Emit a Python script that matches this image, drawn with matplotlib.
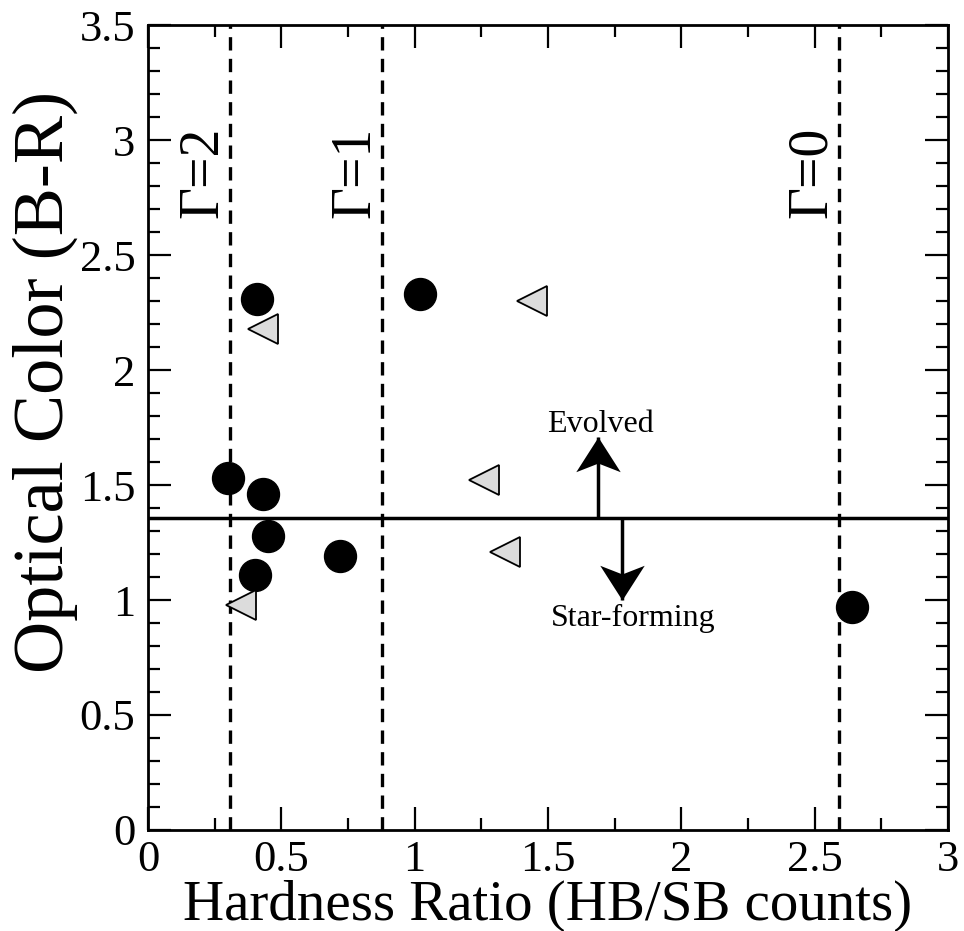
import numpy as np
import matplotlib
matplotlib.use("Agg")
import matplotlib.pyplot as plt
from matplotlib.ticker import MultipleLocator
from matplotlib.path import Path

plt.rcParams['font.family'] = ['Liberation Serif', 'DejaVu Serif']

# Detected sources (filled circles)
det_hr = [0.41, 1.02, 0.30, 0.43, 0.45, 0.40, 0.72, 2.64]
det_col = [2.31, 2.33, 1.53, 1.46, 1.28, 1.11, 1.19, 0.97]

# Upper limits (left-pointing triangles)
lim_hr = [0.43, 1.44, 1.26, 1.34, 0.35]
lim_col = [2.18, 2.30, 1.52, 1.21, 0.98]

# Photon-index reference lines
gamma_hr = [0.308, 0.876, 2.59]
gamma_lab = ['\u0393=2', '\u0393=1', '\u0393=0']
color_cut = 1.355

# arrows: (x, tip y)
arrow_x = [1.687, 1.777]
arrow_tip = [1.71, 1.0]

fig = plt.figure(figsize=(9.64, 9.31), dpi=100)
ax = fig.add_axes([0.1535, 0.1085, 0.83, 0.8646])

for g, lab in zip(gamma_hr, gamma_lab):
    ax.axvline(g, color='black', ls=(0, (4, 2.5)), lw=2.4, zorder=1)
    ax.text(g - 0.099, 2.86, lab, rotation=90, ha='center', va='center', fontsize=40)

ax.axhline(color_cut, color='black', lw=2.5, zorder=1)

ax.plot(det_hr, det_col, 'o', color='black', markersize=23, zorder=3)
ax.plot(lim_hr, lim_col, '<', markerfacecolor='#dcdcdc', markeredgecolor='black',
        markeredgewidth=1.3, markersize=21, zorder=3)

# barbed arrow heads as custom markers with the tip at the origin
head_up = Path([(0, 0), (-0.64, -1), (0, -0.75), (0.64, -1), (0, 0)],
               [Path.MOVETO, Path.LINETO, Path.LINETO, Path.LINETO, Path.CLOSEPOLY])
head_dn = Path([(0, 0), (-0.64, 1), (0, 0.75), (0.64, 1), (0, 0)],
               [Path.MOVETO, Path.LINETO, Path.LINETO, Path.LINETO, Path.CLOSEPOLY])
for x, tip, head in zip(arrow_x, arrow_tip, [head_up, head_dn]):
    ax.plot([x, x], [color_cut, tip], color='black', lw=2.5, zorder=2,
            solid_capstyle='butt')
    ax.plot([x], [tip], marker=head, markersize=50, color='black',
            markeredgewidth=0, zorder=2)

ax.text(1.697, 1.765, 'Evolved', ha='center', va='center', fontsize=23)
ax.text(1.82, 0.92, 'Star-forming', ha='center', va='center', fontsize=23)

ax.set_xlim(0, 3)
ax.set_ylim(0, 3.5)
ax.xaxis.set_major_locator(MultipleLocator(0.5))
ax.xaxis.set_minor_locator(MultipleLocator(0.25))
ax.yaxis.set_major_locator(MultipleLocator(0.5))
ax.yaxis.set_minor_locator(MultipleLocator(0.1))
ax.tick_params(which='both', direction='in', top=True, right=True, width=1.6, labelsize=32)
ax.tick_params(which='major', length=16.5)
ax.tick_params(axis='y', which='major', pad=9)
ax.tick_params(axis='x', which='major', pad=7)
ax.tick_params(which='minor', length=8.6)
ax.xaxis.set_major_formatter(plt.FuncFormatter(lambda v, p: '{:g}'.format(v)))
ax.yaxis.set_major_formatter(plt.FuncFormatter(lambda v, p: '{:g}'.format(v)))
for s in ax.spines.values():
    s.set_linewidth(2)

ax.set_xlabel('Hardness Ratio (HB/SB counts)', fontsize=41, labelpad=0)
ax.set_ylabel('Optical Color (B-R)', fontsize=52)
ax.yaxis.set_label_coords(-0.088, 0.557)

plt.savefig('out.png', dpi=100)
